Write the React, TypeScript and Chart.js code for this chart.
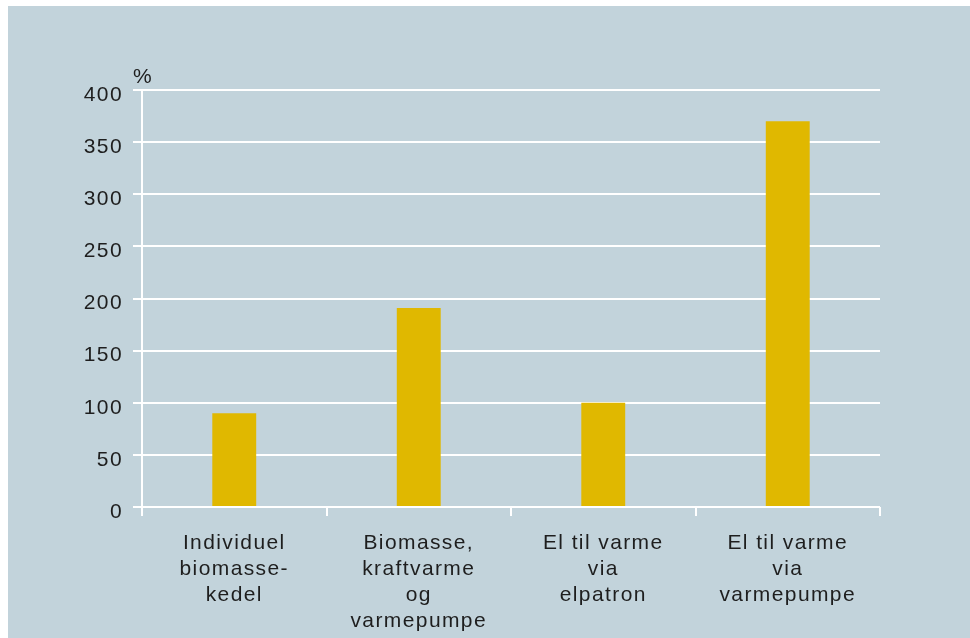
import React, { useEffect, useRef } from "react";
import { Chart, registerables } from "chart.js";

Chart.register(...registerables);

const categories: string[][] = [
  ["Individuel", "biomasse-", "kedel"],
  ["Biomasse,", "kraftvarme", "og", "varmepumpe"],
  ["El til varme", "via", "elpatron"],
  ["El til varme", "via", "varmepumpe"],
];
const values: number[] = [90, 191, 100, 370];
const yMin = 0;
const yMax = 400;
const yStep = 50;
const unitLabel = "%";

const BG = "#c2d3db";
const BAR = "#e0b800";
const TEXT = "#1e1e1e";
const FONT = "'Liberation Sans', Arial, sans-serif";

export default function App() {
  const ref = useRef<HTMLCanvasElement | null>(null);

  useEffect(() => {
    if (!ref.current) return;
    const spacingPlugin = {
      id: "spacing",
      beforeDraw(chart: any) {
        chart.ctx.letterSpacing = "1.4px";
      },
      afterDraw(chart: any) {
        const ctx = chart.ctx;
        const a = chart.chartArea;
        ctx.save();
        ctx.fillStyle = TEXT;
        ctx.font = `21px ${FONT}`;
        ctx.textAlign = "center";
        ctx.textBaseline = "middle";
        ctx.fillText(unitLabel, a.left + 1, a.top - 13);
        ctx.restore();
      },
    };
    const chart = new Chart(ref.current, {
      type: "bar",
      data: {
        labels: categories,
        datasets: [
          {
            data: values,
            backgroundColor: BAR,
            borderWidth: 0,
            barPercentage: 0.238,
            categoryPercentage: 1,
          },
        ],
      },
      options: {
        responsive: false,
        animation: false,
        layout: { padding: { top: 84, right: 90, left: 0, bottom: 0 } },
        plugins: { legend: { display: false }, tooltip: { enabled: false } },
        scales: {
          x: {
            afterFit(scale: any) {
              scale.height = 131;
            },
            grid: {
              display: true,
              drawOnChartArea: false,
              drawTicks: true,
              tickLength: 9,
              color: "#ffffff",
              lineWidth: 2,
              offset: true,
            },
            border: { display: false },
            ticks: {
              color: TEXT,
              padding: 14,
              maxRotation: 0,
              autoSkip: false,
              font: { family: FONT, size: 21, lineHeight: 26 / 21 },
            },
          },
          y: {
            min: yMin,
            max: yMax,
            afterFit(scale: any) {
              scale.width = 134;
            },
            grid: {
              color: "#ffffff",
              lineWidth: 2,
              tickLength: 9,
              drawTicks: true,
            },
            border: { display: true, color: "#ffffff", width: 2 },
            ticks: {
              stepSize: yStep,
              color: TEXT,
              padding: 10,
              labelOffset: 5,
              font: { family: FONT, size: 21 },
            },
          },
        },
      },
      plugins: [spacingPlugin],
    });
    return () => chart.destroy();
  }, []);

  return (
    <div
      style={{
        position: "absolute",
        left: 8,
        top: 6,
        width: 962,
        height: 632,
        background: BG,
      }}
    >
      <canvas ref={ref} width={962} height={632} style={{ display: "block" }} />
    </div>
  );
}
